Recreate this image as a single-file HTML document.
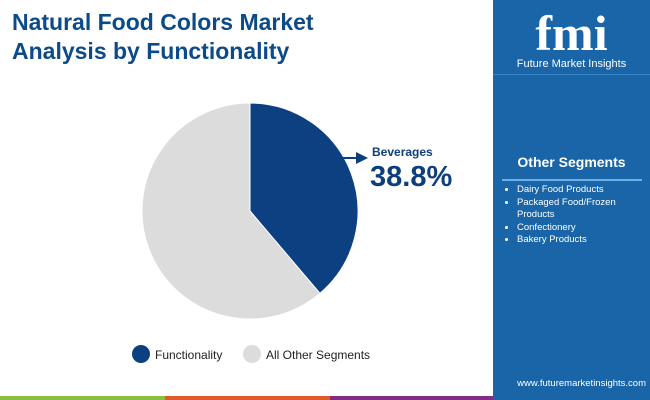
<!DOCTYPE html>
<html><head><meta charset="utf-8"><style>
body{margin:0;width:650px;height:400px;overflow:hidden;background:#fff;font-family:"Liberation Sans",sans-serif;position:relative}
.title{position:absolute;left:12px;top:8px;font-size:23px;font-weight:bold;color:#0d4a8a;line-height:29px}
.panel{position:absolute;left:493px;top:0;width:157px;height:400px;background:#1a65a8}
</style></head><body>
<div class="title">Natural Food Colors Market<br>Analysis by Functionality</div>
<div class="panel">
  <div style="position:absolute;left:0;top:8px;width:157px;text-align:center;color:#fff">
    <div style="font-size:50px;font-weight:bold;font-family:'Liberation Serif',serif;line-height:50px">fmi</div>
    <div style="font-size:11px">Future Market Insights</div>
  </div>
  <div style="position:absolute;left:0;top:74px;width:157px;height:1px;background:#3b82c4"></div>
  <div style="position:absolute;left:0;top:154px;width:157px;text-align:center;color:#fff;font-weight:bold;font-size:14px">Other Segments</div>
  <div style="position:absolute;left:9px;top:179px;width:140px;height:2px;background:#6fb0e8"></div>
  <ul style="position:absolute;left:0;top:184px;margin:0;padding-left:24px;width:125px;color:#fff;font-size:9.5px;line-height:12.5px">
    <li>Dairy Food Products</li><li>Packaged Food/Frozen Products</li><li>Confectionery</li><li>Bakery Products</li>
  </ul>
  <div style="position:absolute;left:0;top:378px;width:153px;text-align:right;color:#fff;font-size:9.5px">www.futuremarketinsights.com</div>
</div>
<div style="position:absolute;left:0;top:396px;width:165px;height:4px;background:#8bc03f"></div>
<div style="position:absolute;left:165px;top:396px;width:165px;height:4px;background:#e05a2a"></div>
<div style="position:absolute;left:330px;top:396px;width:163px;height:4px;background:#842b86"></div>
<svg id="pie" width="493" height="396" style="position:absolute;left:0;top:0">
  <defs><marker id="ah" markerWidth="6" markerHeight="6" refX="5" refY="3" orient="auto"><path d="M0,0L6,3L0,6z" fill="#0d3f7e"/></marker></defs>
  <g id="slices"></g>
  <line x1="343" y1="158" x2="366" y2="158" stroke="#0d3f7e" stroke-width="2" marker-end="url(#ah)"/>
  <text x="372" y="156" font-size="12" font-weight="bold" fill="#0d3f7e">Beverages</text>
  <text x="370" y="186" font-size="29" font-weight="bold" fill="#0d3f7e">38.8%</text>
  <circle cx="141" cy="354" r="9" fill="#0d4080"/>
  <text x="155" y="359" font-size="12" fill="#222">Functionality</text>
  <circle cx="252" cy="354" r="9" fill="#dcdcdc"/>
  <text x="266" y="359" font-size="12" fill="#222">All Other Segments</text>
</svg>
<script>
const categories=["Functionality","All Other Segments"];
const values=[38.8,61.2];
const colors=["#0d4080","#dcdcdc"];
const cx=250,cy=211,r=108;
const g=document.getElementById('slices');
const total=values.reduce((a,b)=>a+b,0);
let a0=0;
values.forEach((v,i)=>{
  const a1=a0+v/total*2*Math.PI;
  const p=t=>[cx+r*Math.sin(t),cy-r*Math.cos(t)];
  const [x0,y0]=p(a0),[x1,y1]=p(a1);
  const path=document.createElementNS('http://www.w3.org/2000/svg','path');
  path.setAttribute('d',`M${cx},${cy}L${x0},${y0}A${r},${r} 0 ${a1-a0>Math.PI?1:0} 1 ${x1},${y1}Z`);
  path.setAttribute('fill',colors[i]);
  path.setAttribute('stroke','#fff');
  path.setAttribute('stroke-width','1');
  
  
  g.appendChild(path);
  a0=a1;
});
</script>
</body></html>
